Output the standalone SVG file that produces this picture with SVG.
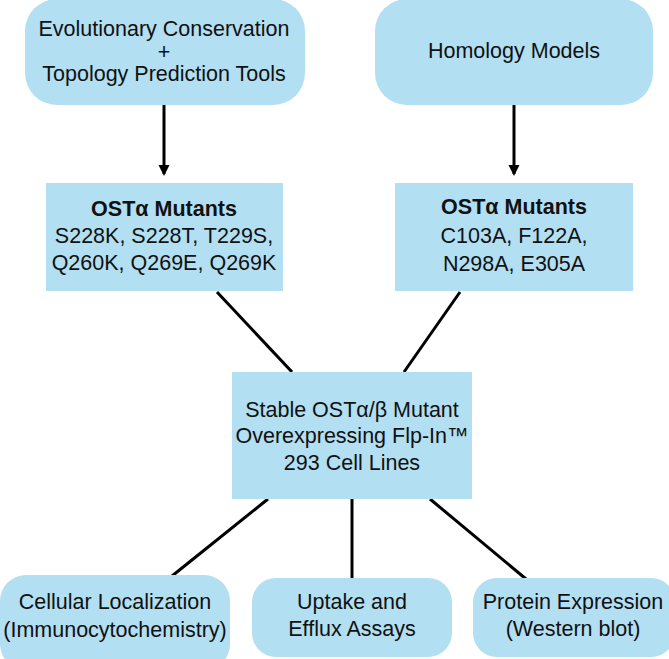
<svg xmlns="http://www.w3.org/2000/svg" width="669" height="659" viewBox="0 0 669 659">
<style>
.box{fill:#b2dff2;}
.t{font-family:"Liberation Sans",Arial,sans-serif;font-size:21.5px;fill:#111;text-anchor:middle;}
.b{font-weight:bold;}
.c{stroke:#000;stroke-width:3;fill:none;}
</style>
<defs>
<marker id="ah" markerWidth="12" markerHeight="12" refX="9" refY="5.5" orient="auto" markerUnits="userSpaceOnUse">
<path d="M0,0 L11,5.5 L0,11 Z" fill="#000"/>
</marker>
</defs>
<rect width="669" height="659" fill="#fff"/>
<g id="connectors">
<line class="c" x1="164" y1="105" x2="164" y2="174" marker-end="url(#ah)"/>
<line class="c" x1="514" y1="105" x2="514" y2="174" marker-end="url(#ah)"/>
<line class="c" x1="217" y1="292" x2="292" y2="372"/>
<line class="c" x1="460" y1="292" x2="404" y2="372"/>
<line class="c" x1="268" y1="499" x2="172" y2="576"/>
<line class="c" x1="352" y1="499" x2="352" y2="579"/>
<line class="c" x1="430" y1="499" x2="526" y2="579"/>
</g>
<g id="evo">
<rect class="box" x="25" y="-1" width="280" height="106" rx="32"/>
<text class="t" x="164" y="36">Evolutionary Conservation</text>
<text class="t" x="164" y="59">+</text>
<text class="t" x="164" y="81">Topology Prediction Tools</text>
</g>
<g id="homology">
<rect class="box" x="375" y="-1" width="278" height="106" rx="32"/>
<text class="t" x="514" y="58">Homology Models</text>
</g>
<g id="mutL">
<rect class="box" x="46" y="183" width="237" height="108"/>
<text class="t b" x="164" y="216">OSTα Mutants</text>
<text class="t" x="164" y="243">S228K, S228T, T229S,</text>
<text class="t" x="164" y="270">Q260K, Q269E, Q269K</text>
</g>
<g id="mutR">
<rect class="box" x="395" y="183" width="238" height="108"/>
<text class="t b" x="514" y="214">OSTα Mutants</text>
<text class="t" x="514" y="243">C103A, F122A,</text>
<text class="t" x="514" y="271">N298A, E305A</text>
</g>
<g id="stable">
<rect class="box" x="232" y="372" width="240" height="127"/>
<text class="t" x="352" y="417">Stable OSTα/β Mutant</text>
<text class="t" x="352" y="443">Overexpressing Flp-In™</text>
<text class="t" x="352" y="470">293 Cell Lines</text>
</g>
<g id="loc">
<rect class="box" x="0" y="575" width="230" height="95" rx="26"/>
<text class="t" x="115" y="609">Cellular Localization</text>
<text class="t" x="115" y="637">(Immunocytochemistry)</text>
</g>
<g id="uptake">
<rect class="box" x="252" y="578" width="200" height="79" rx="24"/>
<text class="t" x="352" y="609">Uptake and</text>
<text class="t" x="352" y="636">Efflux Assays</text>
</g>
<g id="protein">
<rect class="box" x="473" y="578" width="202" height="79" rx="24"/>
<text class="t" x="573" y="609">Protein Expression</text>
<text class="t" x="573" y="636">(Western blot)</text>
</g>
</svg>
